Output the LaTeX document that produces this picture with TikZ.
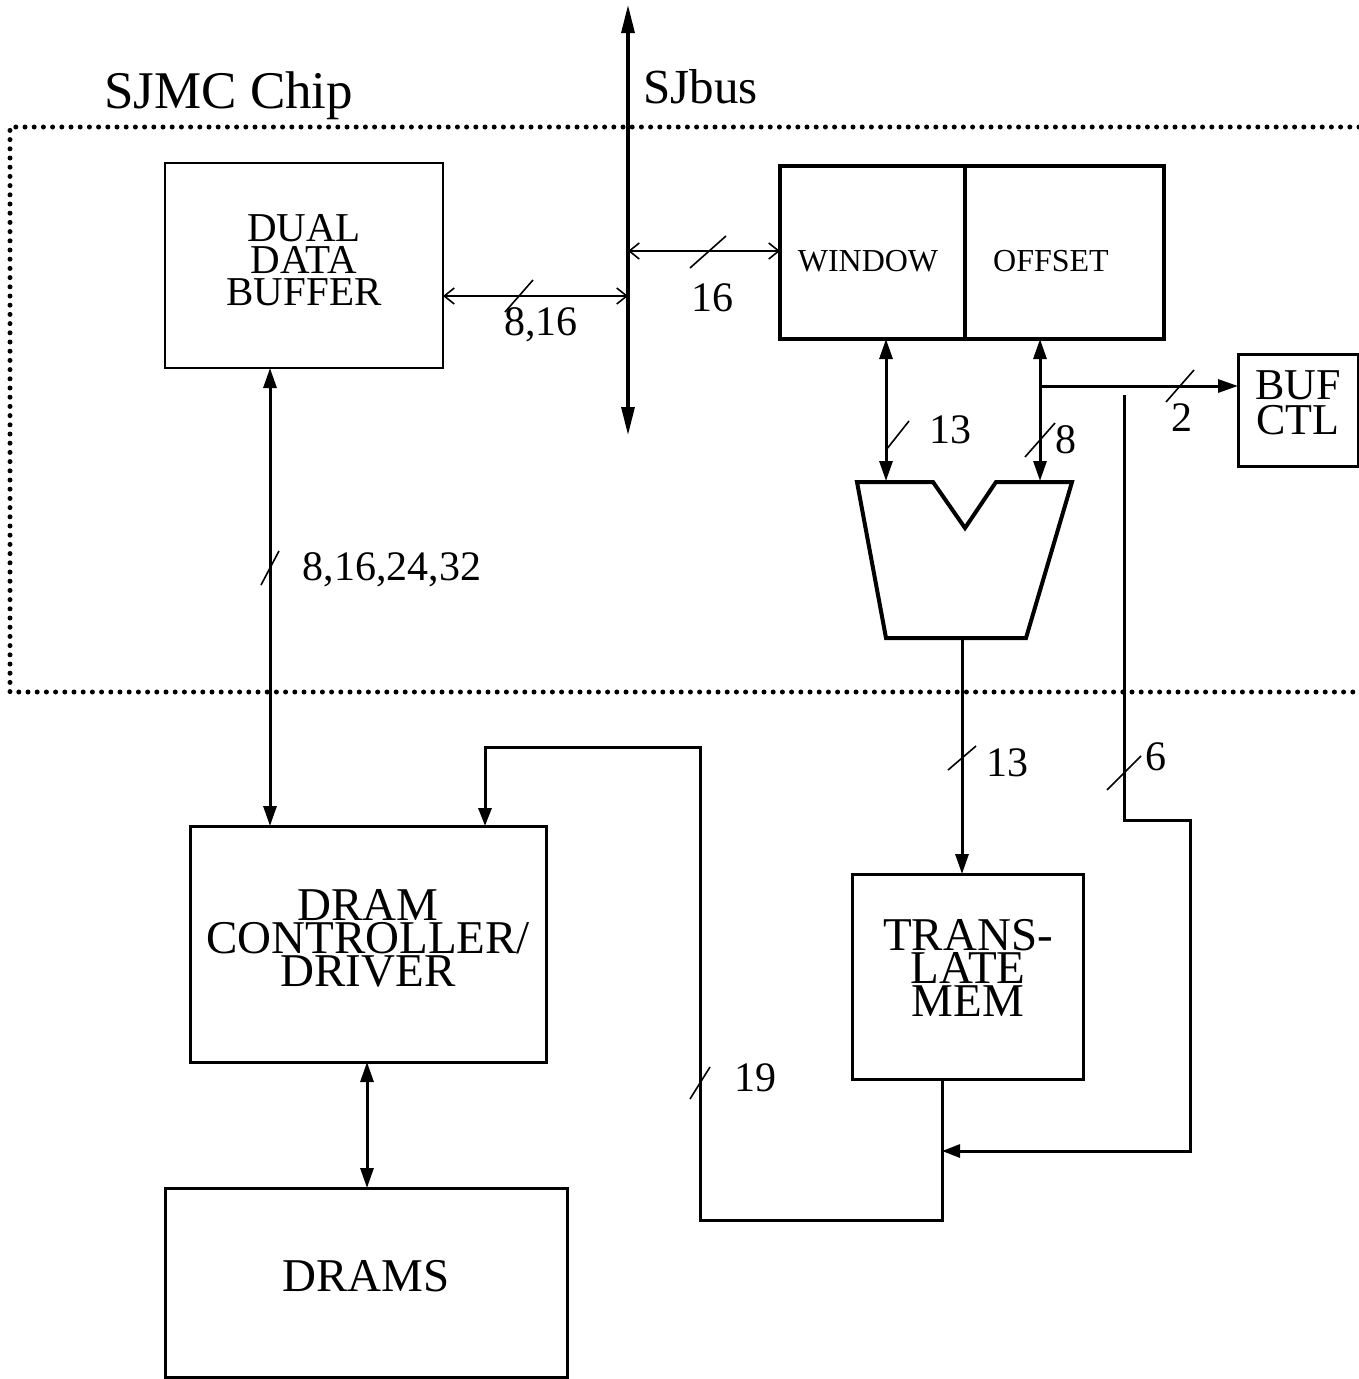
\documentclass[tikz,border=0pt]{standalone}
\usepackage{fontspec}
\setmainfont{Liberation Serif}
\usetikzlibrary{arrows.meta}
\tikzset{
  boxthin/.style={draw, line width=1.8pt, inner sep=0pt, outer sep=0pt},
  boxthick/.style={draw, line width=3.4pt, inner sep=0pt, outer sep=0pt},
  boxtext/.style={inner sep=0pt, align=center, font=\fontsize{47}{33}\selectfont},
  bigarrow/.style={line width=3pt, {Triangle[length=20pt,width=13pt]}-{Triangle[length=20pt,width=13pt]}},
  onearrow/.style={line width=3pt, -{Triangle[length=20pt,width=13pt]}},
  wire/.style={line width=3pt, line join=miter},
  thinarrow/.style={line width=1.6pt, {Straight Barb[length=10pt,width=16pt,line width=1.6pt]}-{Straight Barb[length=10pt,width=16pt,line width=1.6pt]}},
  slashmark/.style={line width=1.6pt},
  numlabel/.style={font=\fontsize{42}{42}\selectfont, anchor=base, inner sep=0pt},
  dotborder/.style={line width=5pt, line cap=round, dash pattern=on 0pt off 9.2pt},
}
\begin{document}
\begin{tikzpicture}[x=1pt,y=-1pt]
\useasboundingbox (0,0) rectangle (1359,1379);
\fill[white] (0,0) rectangle (1359,1379);

% chip border
\draw[dotborder] (1359,127) -- (10,127) -- (10,692) -- (1359,692);
\node[anchor=base west, inner sep=0pt, font=\fontsize{53}{53}\selectfont] (chip) at (104,108) {SJMC Chip};

% SJbus
\coordinate (bustop) at (628,5);
\coordinate (busbot) at (628,435);
\draw[line width=3.2pt, {Triangle[length=28pt,width=13pt]}-{Triangle[length=28pt,width=13pt]}] (busbot) -- (bustop);
\node[anchor=base west, inner sep=0pt, font=\fontsize{49}{49}\selectfont] (sjbus) at (643,103) {SJbus};
\coordinate (busA) at (628,296);
\coordinate (busB) at (628,251);

% boxes
\node[boxthin, minimum width=278pt, minimum height=205pt] (buf) at (304,265.5) {};
\node[boxtext, font=\fontsize{41}{32}\selectfont] (buftxt) at (304,260) {DUAL\\DATA\\BUFFER};
\node[boxthick, minimum width=185pt, minimum height=173pt] (win) at (872.5,252.5) {};
\node[inner sep=0pt, font=\fontsize{32}{32}\selectfont] (wintxt) at (868,261) {WINDOW};
\node[boxthick, minimum width=199pt, minimum height=173pt] (off) at (1064.5,252.5) {};
\node[inner sep=0pt, font=\fontsize{32}{32}\selectfont] (offtxt) at (1051,261) {OFFSET};
\node[boxthick, line width=3pt, minimum width=120pt, minimum height=112pt] (bufctl) at (1298,410) {};
\node[boxtext, font=\fontsize{44}{35}\selectfont] (bufctltxt) at (1298,403) {BUF\\CTL};
\node[boxthick, line width=3pt, minimum width=356pt, minimum height=236pt] (dram) at (368,944) {};
\node[boxtext] (dramtxt) at (368,938) {DRAM\\CONTROLLER/\\DRIVER};
\node[boxthick, line width=3pt, minimum width=231pt, minimum height=205pt] (trans) at (967.5,976.5) {};
\node[boxtext] (transtxt) at (968,968) {TRANS-\\LATE\\MEM};
\node[boxthick, line width=3pt, minimum width=402pt, minimum height=189pt] (drams) at (366,1282.5) {};
\node[boxtext] (dramstxt) at (366,1276) {DRAMS};

% mux trapezoid
\draw[line width=4pt, line join=miter] (857,482) -- (933,482) -- (965,528) -- (996,482) -- (1072,482) -- (1026,638) -- (886,638) -- cycle;
\coordinate (muxA) at (886,481);
\coordinate (muxB) at (1040,481);
\coordinate (muxOut) at (962,640);

% connectors
\draw[thinarrow] (buf.east |- busA) -- (busA);
\draw[thinarrow] (busB) -- (win.west |- busB);
\draw[bigarrow] (muxA |- win.south) -- (muxA);
\draw[bigarrow] (muxB |- off.south) -- (muxB);
\coordinate (br) at (1040,386);
\draw[onearrow] (br) -- (bufctl.west |- br);
\draw[onearrow] (muxOut) -- (trans.north -| muxOut);
\coordinate (bufdram) at (270,600);
\draw[bigarrow] (buf.south -| bufdram) -- (dram.north -| bufdram);
\coordinate (dd) at (367,1100);
\draw[bigarrow] (dram.south -| dd) -- (drams.north -| dd);
\coordinate (s6) at (1124,395);
\coordinate (jn) at (942,1151);
\draw[wire, -{Triangle[length=18pt,width=13pt]}] (s6) -- (1124,820) -- (1190,820) -- (1190,1151) -- (jn);
\coordinate (d19) at (485,747);
\draw[wire, -{Triangle[length=18pt,width=13pt]}] (trans.south -| jn) -- (942,1220) -- (700,1220) -- (700,747) -- (d19) -- (dram.north -| d19);

% slashes
\draw[slashmark, shift={(519,296)}] (-14,16) -- (14,-16);
\draw[slashmark, shift={(708,252)}] (-18,16) -- (18,-16);
\draw[slashmark, shift={(897,436)}] (-11,14) -- (12,-15);
\draw[slashmark, shift={(1040,440)}] (-15,17) -- (15,-17);
\draw[slashmark, shift={(1180,386)}] (-14,16) -- (14,-16);
\draw[slashmark, shift={(270,568)}] (-9,17) -- (9,-17);
\draw[slashmark, shift={(962,758)}] (-14,12) -- (14,-12);
\draw[slashmark, shift={(1124,773)}] (-17,17) -- (17,-17);
\draw[slashmark, shift={(700,1083)}] (-10,16) -- (10,-16);

% labels
\node[numlabel] (l816) at (541,335) {8,16};
\node[numlabel] (l16) at (712,311) {16};
\node[numlabel] (l13a) at (950,443) {13};
\node[numlabel] (l8) at (1066,453) {8};
\node[numlabel] (l2) at (1182,431) {2};
\node[numlabel] (l32) at (392,580) {8,16,24,32};
\node[numlabel] (l13b) at (1007,776) {13};
\node[numlabel] (l6) at (1156,770) {6};
\node[numlabel] (l19) at (755,1091) {19};
\end{tikzpicture}
\end{document}
